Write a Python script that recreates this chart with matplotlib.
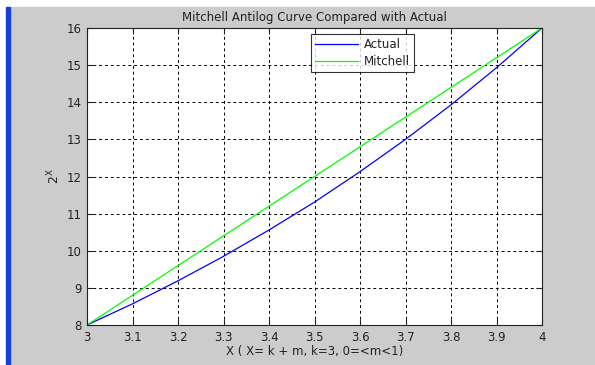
import matplotlib
matplotlib.use("Agg")
import matplotlib.pyplot as plt
from matplotlib.patches import Rectangle

# values
x_vals = [3.0, 3.1, 3.2, 3.3, 3.4, 3.5, 3.6, 3.7, 3.8, 3.9, 4.0]
actual = [8.0, 8.57, 9.19, 9.85, 10.56, 11.31, 12.13, 13.0, 13.93, 14.93, 16.0]
mitchell = [8.0, 8.8, 9.6, 10.4, 11.2, 12.0, 12.8, 13.6, 14.4, 15.2, 16.0]
x_ticks = [3, 3.1, 3.2, 3.3, 3.4, 3.5, 3.6, 3.7, 3.8, 3.9, 4]
x_tick_labels = ["3", "3.1", "3.2", "3.3", "3.4", "3.5", "3.6", "3.7", "3.8", "3.9", "4"]
y_ticks = [8, 9, 10, 11, 12, 13, 14, 15, 16]

plt.rcParams["font.family"] = ["DejaVu Sans"]
plt.rcParams["mathtext.default"] = "regular"

W, H = 595, 365
fig = plt.figure(figsize=(W / 100, H / 100), dpi=100)
fig.patch.set_facecolor("white")

# grey window background with blue edge bar
fig.patches.append(Rectangle((10 / W, 0), 1 - 10 / W, 1 - 7 / H,
                             transform=fig.transFigure, color="#cccccc", zorder=-2))
fig.patches.append(Rectangle((6 / W, 0), 4 / W, 1 - 7 / H,
                             transform=fig.transFigure, color="#1540d8", zorder=-1))

left, right, top, bottom = 87, 542, 28, 325
ax = fig.add_axes([left / W, 1 - bottom / H, (right - left) / W, (bottom - top) / H])
ax.set_facecolor("white")

ax.plot(x_vals, actual, color="#0000ff", lw=0.9, label="Actual")
ax.plot(x_vals, mitchell, color="#00ff00", lw=0.9, label="Mitchell")

ax.set_xlim(3, 4)
ax.set_ylim(8, 16)
ax.set_xticks(x_ticks)
ax.set_xticklabels(x_tick_labels)
ax.set_yticks(y_ticks)
ax.tick_params(direction="in", top=True, right=True, length=4, width=0.8,
               labelsize=8.5, pad=4, colors="#222222")
ax.grid(True, color="black", linestyle=(0, (3, 3)), linewidth=0.7)
for sp in ax.spines.values():
    sp.set_linewidth(0.8)
    sp.set_color("#222222")

ax.set_title("Mitchell Antilog Curve Compared with Actual", fontsize=8.5, pad=5,
             color="#222222")
ax.set_xlabel("X ( X= k + m, k=3, 0=<m<1)", fontsize=8.5, labelpad=1, color="#222222")
ax.set_ylabel("$2^{X}$", fontsize=9, labelpad=3, color="#222222")

leg = ax.legend(loc="upper left", bbox_to_anchor=((311 - left) / (right - left), 1 - 6 / (bottom - top)),
                fontsize=8.5, frameon=True, fancybox=False, edgecolor="black",
                handlelength=3.6, borderpad=0.35, labelspacing=0.3, handletextpad=0.5,
                borderaxespad=0)
leg.get_frame().set_linewidth(0.8)
for t in leg.get_texts():
    t.set_color("#222222")

fig.savefig("out.png", dpi=100)
